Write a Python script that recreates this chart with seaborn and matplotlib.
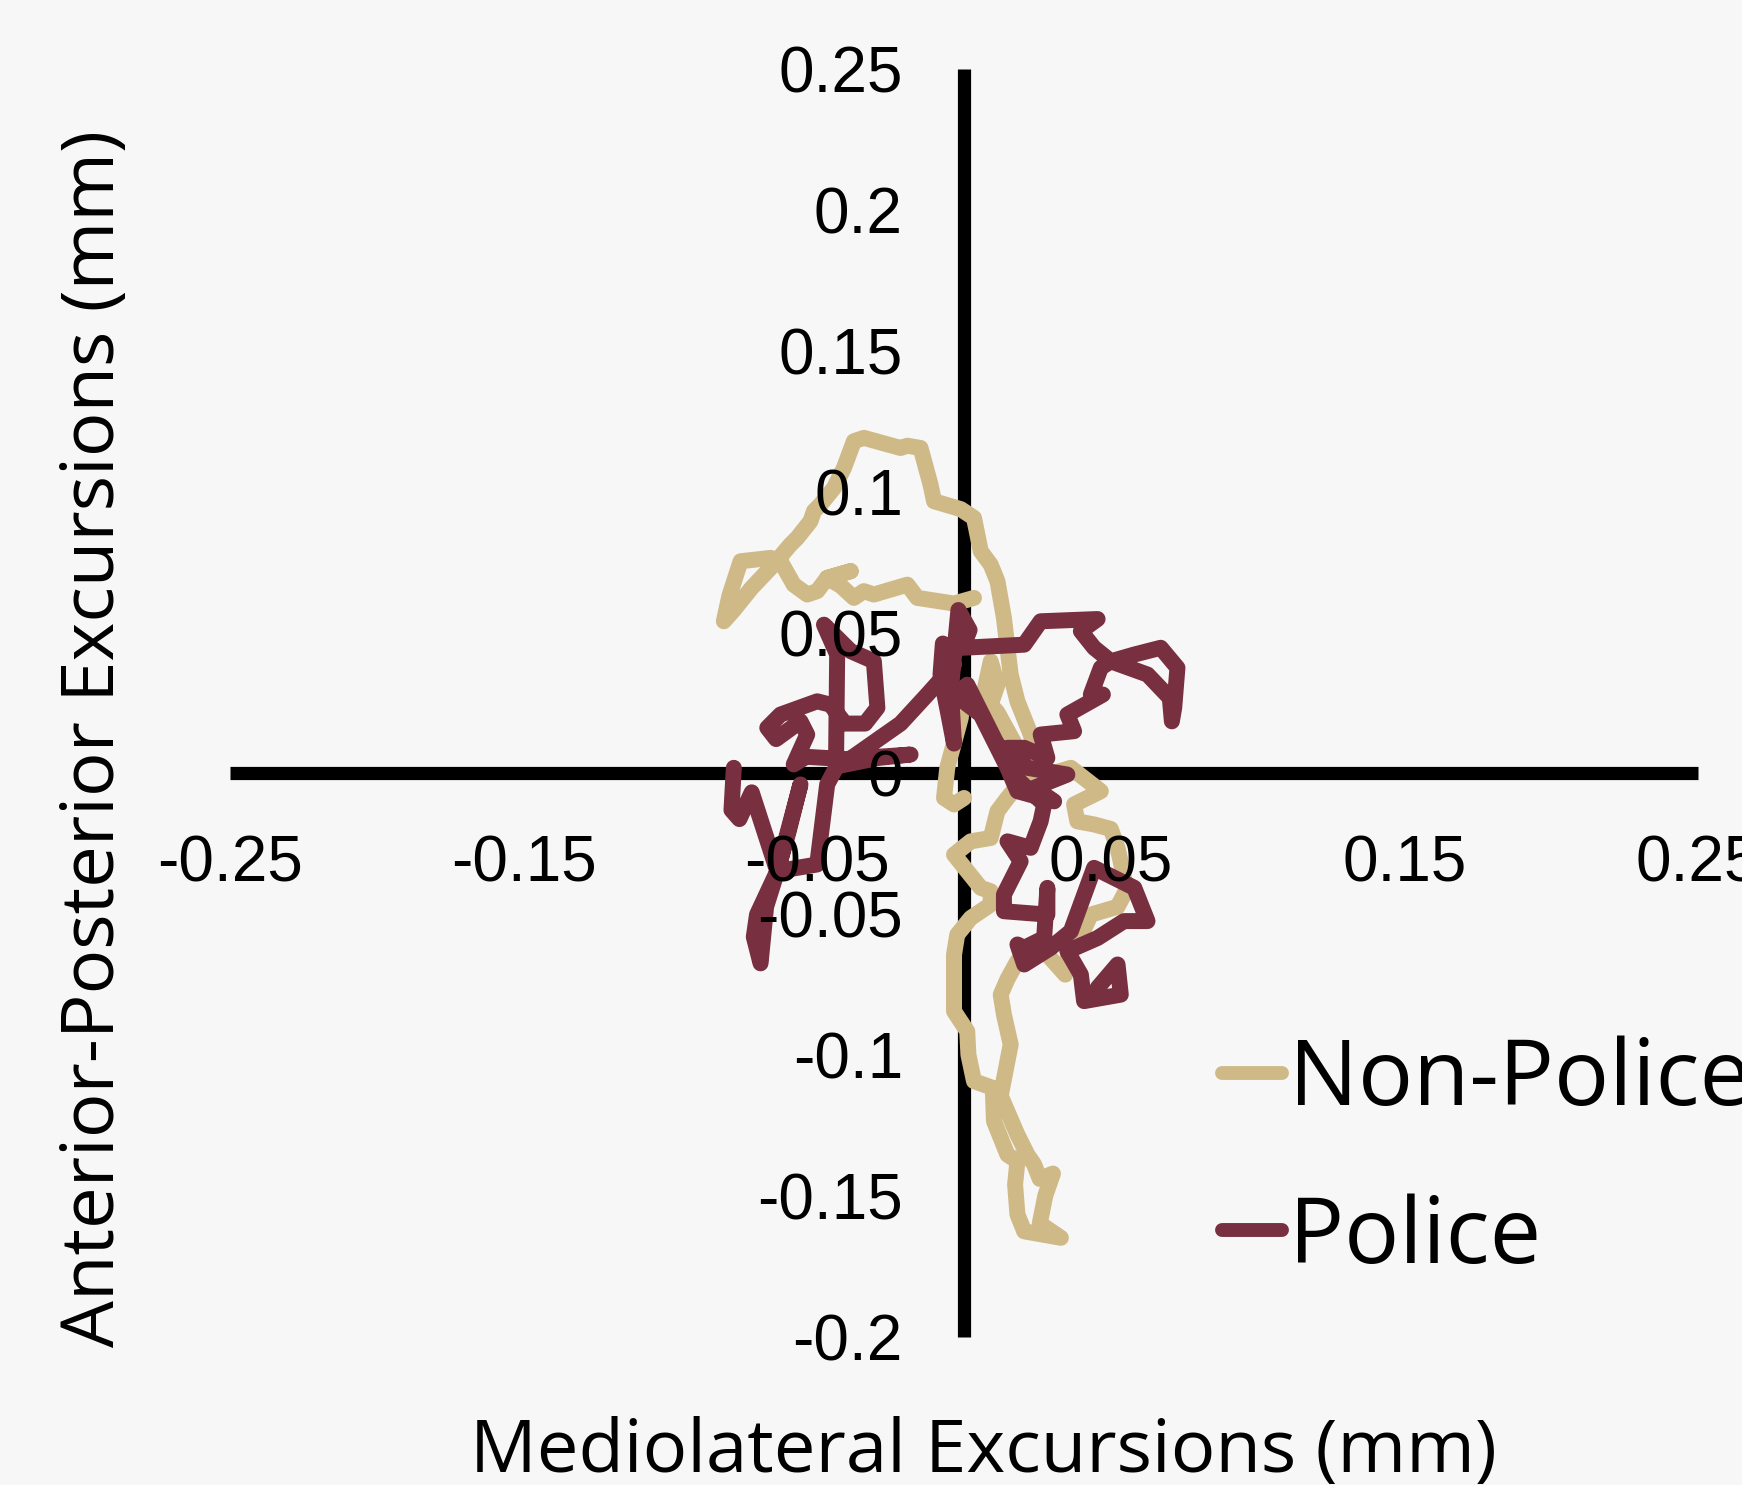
import matplotlib
matplotlib.use("Agg")
import matplotlib.pyplot as plt
import seaborn as sns
import pandas as pd
from matplotlib.lines import Line2D

# Centre-of-pressure excursions (mm): mediolateral (x) and anterior-posterior (y)
non_police_ml = [0.0034, -0.0034, -0.0159, -0.0193, -0.0307, -0.0341, -0.0375, -0.0420, -0.0466, -0.0386,
                 -0.0466, -0.0500, -0.0534, -0.0580, -0.0625, -0.0659, -0.0761, -0.0799, -0.0818, -0.0784,
                 -0.0723, -0.0659, -0.0591, -0.0568, -0.0523, -0.0511, -0.0489, -0.0443, -0.0409, -0.0375,
                 -0.0341, -0.0216, -0.0193, -0.0148, -0.0114, -0.0102, -0.0011, 0.0034, 0.0057, 0.0091,
                 0.0114, 0.0136, 0.0148, 0.0159, 0.0182, 0.0227, 0.0239, 0.0205, 0.0148, 0.0114,
                 0.0091, 0.0023, -0.0034, 0.0057, 0.0091, 0.0091, 0.0023, -0.0023, -0.0034, -0.0034,
                 -0.0034, 0.0011, 0.0015, 0.0034, 0.0098, 0.0102, 0.0148, 0.0182, 0.0174, 0.0182,
                 0.0205, 0.0330, 0.0258, 0.0277, 0.0303, 0.0258, 0.0239, 0.0216, 0.0182, 0.0125,
                 0.0159, 0.0136, 0.0125, 0.0148, 0.0182, 0.0277, 0.0345, 0.0360, 0.0409, 0.0432,
                 0.0523, 0.0553, 0.0534, 0.0523, 0.0500, 0.0443, 0.0386, 0.0375, 0.0466, 0.0364,
                 0.0239, 0.0114, 0.0091, 0.0114, 0.0091, 0.0057, 0.0000, -0.0011, -0.0057, -0.0068,
                 -0.0034, 0.0000]
non_police_ap = [0.0623, 0.0603, 0.0623, 0.0670, 0.0635, 0.0647, 0.0623, 0.0666, 0.0694, 0.0718,
                 0.0694, 0.0647, 0.0635, 0.0670, 0.0753, 0.0765, 0.0753, 0.0631, 0.0540, 0.0580,
                 0.0659, 0.0729, 0.0812, 0.0836, 0.0895, 0.0931, 0.0954, 0.1013, 0.1084, 0.1179,
                 0.1191, 0.1155, 0.1163, 0.1155, 0.1025, 0.0966, 0.0938, 0.0907, 0.0789, 0.0741,
                 0.0682, 0.0552, 0.0446, 0.0351, 0.0256, 0.0138, 0.0091, -0.0016, -0.0087, -0.0134,
                 -0.0229, -0.0241, -0.0288, -0.0406, -0.0418, -0.0465, -0.0513, -0.0572, -0.0643, -0.0737,
                 -0.0844, -0.0915, -0.0998, -0.1092, -0.1116, -0.1234, -0.1353, -0.1376, -0.1459, -0.1565,
                 -0.1625, -0.1648, -0.1597, -0.1498, -0.1420, -0.1439, -0.1388, -0.1353, -0.1282, -0.1144,
                 -0.0962, -0.0856, -0.0785, -0.0730, -0.0666, -0.0635, -0.0714, -0.0611, -0.0552, -0.0501,
                 -0.0473, -0.0414, -0.0315, -0.0264, -0.0197, -0.0181, -0.0170, -0.0110, -0.0063, 0.0020,
                 -0.0020, 0.0217, 0.0244, 0.0315, 0.0398, 0.0233, 0.0304, 0.0197, 0.0020, -0.0087,
                 -0.0110, -0.0087]

police_ml = [-0.0784, -0.0792, -0.0765, -0.0723, -0.0636, -0.0705, -0.0716, -0.0693, -0.0674, -0.0636,
             -0.0557, -0.0598, -0.0636, -0.0500, -0.0466, -0.0436, -0.0432, -0.0477, -0.0386, -0.0307,
             -0.0295, -0.0337, -0.0405, -0.0455, -0.0500, -0.0625, -0.0670, -0.0640, -0.0557, -0.0534,
             -0.0580, -0.0538, -0.0405, -0.0182, -0.0292, -0.0420, -0.0216, -0.0125, -0.0034, -0.0072,
             -0.0080, -0.0053, -0.0034, -0.0045, -0.0019, 0.0019, -0.0004, 0.0205, 0.0261, 0.0455,
             0.0398, 0.0443, 0.0500, 0.0580, 0.0670, 0.0727, 0.0716, 0.0708, 0.0701, 0.0625,
             0.0500, 0.0466, 0.0432, 0.0473, 0.0352, 0.0375, 0.0261, 0.0284, 0.0205, 0.0148,
             0.0216, 0.0352, 0.0239, 0.0307, 0.0182, 0.0148, 0.0057, -0.0027, 0.0011, 0.0106,
             0.0182, 0.0273, 0.0261, 0.0227, 0.0148, 0.0193, 0.0136, 0.0136, 0.0284, 0.0284,
             0.0273, 0.0205, 0.0182, 0.0205, 0.0295, 0.0364, 0.0443, 0.0580, 0.0625, 0.0545,
             0.0455, 0.0352, 0.0398, 0.0409, 0.0534, 0.0523, 0.0455]
police_ap = [0.0020, -0.0130, -0.0162, -0.0067, -0.0347, -0.0501, -0.0580, -0.0674, -0.0473, -0.0347,
             -0.0039, -0.0209, -0.0347, -0.0323, -0.0039, 0.0020, 0.0422, 0.0528, 0.0434, 0.0398,
             0.0233, 0.0177, 0.0177, 0.0244, 0.0256, 0.0209, 0.0162, 0.0122, 0.0185, 0.0138,
             0.0032, 0.0059, 0.0051, 0.0067, 0.0055, 0.0028, 0.0177, 0.0280, 0.0386, 0.0461,
             0.0351, 0.0209, 0.0106, 0.0296, 0.0580, 0.0509, 0.0446, 0.0457, 0.0540, 0.0548,
             0.0505, 0.0446, 0.0398, 0.0422, 0.0446, 0.0375, 0.0233, 0.0185, 0.0268, 0.0351,
             0.0398, 0.0375, 0.0280, 0.0280, 0.0209, 0.0150, 0.0138, 0.0055, 0.0091, 0.0091,
             0.0020, -0.0004, -0.0051, -0.0099, -0.0063, 0.0020, 0.0209, 0.0276, 0.0315, 0.0118,
             -0.0020, -0.0110, -0.0170, -0.0264, -0.0241, -0.0312, -0.0430, -0.0489, -0.0501, -0.0406,
             -0.0584, -0.0619, -0.0607, -0.0678, -0.0619, -0.0560, -0.0335, -0.0406, -0.0524, -0.0524,
             -0.0584, -0.0631, -0.0714, -0.0808, -0.0785, -0.0678, -0.0761]

groups = ["Non-Police", "Police"]
group_colors = ["#CFB987", "#782F40"]

x_ticks = [-0.25, -0.15, -0.05, 0.05, 0.15, 0.25]
x_tick_labels = ["-0.25", "-0.15", "-0.05", "0.05", "0.15", "0.25"]
y_ticks = [-0.2, -0.15, -0.1, -0.05, 0, 0.05, 0.1, 0.15, 0.2, 0.25]
y_tick_labels = ["-0.2", "-0.15", "-0.1", "-0.05", "0", "0.05", "0.1", "0.15", "0.2", "0.25"]

x_title = "Mediolateral Excursions (mm)"
y_title = "Anterior-Posterior Excursions (mm)"

df = pd.concat([
    pd.DataFrame({"ml": non_police_ml, "ap": non_police_ap, "group": groups[0]}),
    pd.DataFrame({"ml": police_ml, "ap": police_ap, "group": groups[1]}),
], ignore_index=True)

bg = "#F7F7F7"
sns.set_theme(style="white")
plt.rcParams["font.family"] = ["Liberation Sans", "DejaVu Sans"]
plt.rcParams["text.color"] = "black"

fig = plt.figure(figsize=(17.42, 14.85), dpi=100, facecolor=bg)
ax = fig.add_axes([230 / 1742, 148 / 1485, 1468 / 1742, 1268 / 1485])
ax.set_facecolor(bg)

sns.lineplot(data=df, x="ml", y="ap", hue="group", hue_order=groups,
             palette=group_colors, sort=False, estimator=None,
             linewidth=11.5, legend=False, ax=ax, zorder=2)
for line in ax.lines:
    line.set_solid_capstyle("round")
    line.set_solid_joinstyle("round")

ax.set_xlim(-0.25, 0.25)
ax.set_ylim(-0.2, 0.25)

# Axes cross at the origin, drawn beneath the traces
for side in ["top", "right"]:
    ax.spines[side].set_visible(False)
for side in ["left", "bottom"]:
    sp = ax.spines[side]
    sp.set_position("zero")
    sp.set_color("black")
    sp.set_linewidth(9.5)
    sp.set_capstyle("butt")
    sp.set_zorder(1)
ax.xaxis.set_zorder(3)
ax.yaxis.set_zorder(3)

ax.set_xticks(x_ticks)
ax.set_xticklabels(x_tick_labels)
ax.set_yticks(y_ticks)
ax.set_yticklabels(y_tick_labels)
ax.tick_params(axis="both", length=0, labelsize=46, labelcolor="black")
ax.tick_params(axis="x", pad=44)
ax.tick_params(axis="y", pad=44)
ax.grid(False)

title_font = ["Open Sans", "DejaVu Sans"]
ax.set_xlabel(x_title, fontsize=53.5, family=title_font, color="black")
ax.xaxis.set_label_coords(0.513, -0.062)
ax.set_ylabel(y_title, fontsize=53.5, family=title_font, color="black")
ax.yaxis.set_label_coords(-0.067, 0.472)

handles = [Line2D([], [], color=c, linewidth=10, solid_capstyle="round") for c in group_colors]
leg = fig.legend(handles, groups, loc="center left",
                 bbox_to_anchor=(1222 / 1742, (1485 - 1160) / 1485),
                 frameon=False, borderpad=0, borderaxespad=0, handlelength=0.65, handletextpad=0.08,
                 labelspacing=0.72, prop={"family": title_font, "size": 66})
for t in leg.get_texts():
    t.set_color("black")

fig.savefig("out.png", dpi=100, facecolor=bg)
